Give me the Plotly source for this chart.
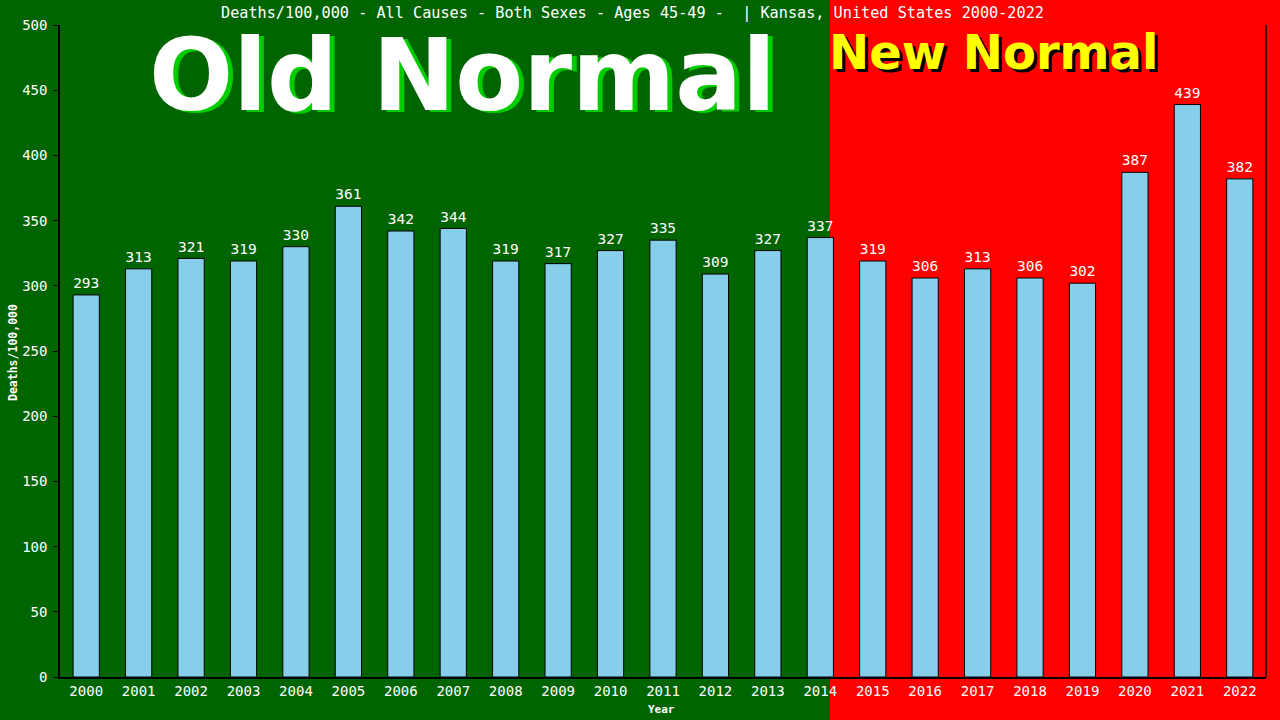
import plotly.graph_objects as go

years = [str(y) for y in range(2000, 2023)]
deaths = [293, 313, 321, 319, 330, 361, 342, 344, 319, 317, 327, 335, 309,
          327, 337, 319, 306, 313, 306, 302, 387, 439, 382]
y_ticks = [0, 50, 100, 150, 200, 250, 300, 350, 400, 450, 500]

title_text = "Deaths/100,000 - All Causes - Both Sexes - Ages 45-49 -  | Kansas, United States 2000-2022"

W, H = 1280, 720
L, R, T, B = 60, 14, 25, 43
pw, ph = W - L - R, H - T - B

def px(x):
    return (x - L) / pw

def py(y):
    return (H - B - y) / ph

GREEN = "#006400"
RED = "#ff0000"
MONO = "DejaVu Sans Mono"

fig = go.Figure()
fig.add_trace(go.Bar(
    x=years, y=deaths, width=0.5,
    marker=dict(color="#87CEEB", line=dict(color="black", width=1)),
    text=[str(v) for v in deaths], textposition="outside",
    textfont=dict(family=MONO, size=15, color="white"),
    cliponaxis=False, showlegend=False,
))

shapes = [
    dict(type="rect", xref="paper", yref="paper", x0=px(830), x1=px(1300),
         y0=py(740), y1=py(-20), fillcolor=RED, line=dict(width=0), layer="below"),
    dict(type="line", xref="paper", yref="paper", x0=1, x1=1, y0=0, y1=1,
         line=dict(color="black", width=1.5)),
]

annotations = [
    dict(text=title_text, xref="paper", yref="paper", x=px(632), y=py(13),
         showarrow=False, font=dict(family=MONO, size=15.2, color="white"),
         xanchor="center", yanchor="middle"),
    # Old Normal shadow + text
    dict(text="<b>Old Normal</b>", xref="paper", yref="paper", x=px(467), y=py(78),
         showarrow=False, font=dict(family="DejaVu Sans", size=99, color="#00cc00"),
         xanchor="center", yanchor="middle"),
    dict(text="<b>Old Normal</b>", xref="paper", yref="paper", x=px(462), y=py(75),
         showarrow=False, font=dict(family="DejaVu Sans", size=99, color="white"),
         xanchor="center", yanchor="middle"),
    # New Normal shadow + text
    dict(text="<b>New Normal</b>", xref="paper", yref="paper", x=px(996), y=py(55),
         showarrow=False, font=dict(family="DejaVu Sans", size=48, color="black"),
         xanchor="center", yanchor="middle"),
    dict(text="<b>New Normal</b>", xref="paper", yref="paper", x=px(993), y=py(52),
         showarrow=False, font=dict(family="DejaVu Sans", size=48, color="yellow"),
         xanchor="center", yanchor="middle"),
    # axis titles as annotations to avoid margin push
    dict(text="<b>Year</b>", xref="paper", yref="paper", x=px(661), y=py(709),
         showarrow=False, font=dict(family=MONO, size=11, color="white"),
         xanchor="center", yanchor="middle"),
    dict(text="<b>Deaths/100,000</b>", xref="paper", yref="paper", x=px(13), y=py(352),
         showarrow=False, textangle=-90, font=dict(family=MONO, size=11.5, color="white"),
         xanchor="center", yanchor="middle"),
]

fig.update_layout(
    width=W, height=H,
    margin=dict(l=L, r=R, t=T, b=B, autoexpand=False),
    paper_bgcolor=GREEN, plot_bgcolor="rgba(0,0,0,0)",
    shapes=shapes, annotations=annotations,
    bargap=0.5,
)
fig.update_xaxes(
    type="category", range=[-0.5, 22.5], showgrid=False, zeroline=False,
    showline=True, linecolor="black", linewidth=1.5, ticks="", automargin=False,
    tickfont=dict(family=MONO, size=14, color="white"),
)
fig.update_yaxes(
    range=[0, 500], tickvals=y_ticks, showgrid=False, zeroline=False,
    showline=True, linecolor="black", linewidth=1.5, automargin=False,
    ticks="outside", ticklen=5, tickcolor="black", ticklabelstandoff=3,
    tickfont=dict(family=MONO, size=14, color="white"),
)

fig.write_html(
    "out.html",
    config={"displayModeBar": False},
    post_script="document.body.style.margin='0';document.body.style.padding='0';",
)
